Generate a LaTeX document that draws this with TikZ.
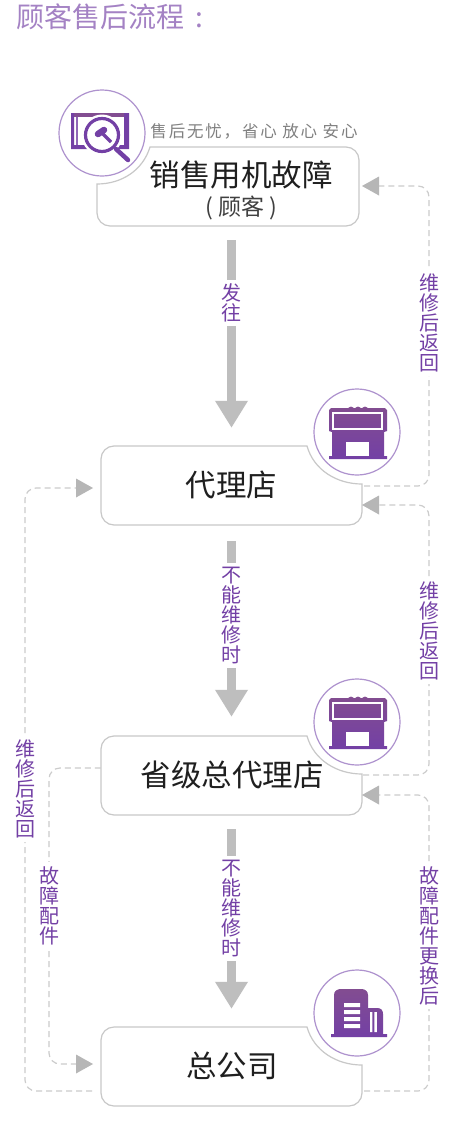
\documentclass[tikz,border=0pt]{standalone}
\usepackage{fontspec}
\setmainfont{Noto Sans CJK SC}
\usetikzlibrary{arrows.meta}
\definecolor{vio}{HTML}{7340A5}
\definecolor{violight}{HTML}{A482C4}
\definecolor{ring}{HTML}{AE92CE}
\definecolor{boxgray}{HTML}{C8C8C8}
\definecolor{dashgray}{HTML}{CCCCCC}
\definecolor{tipgray}{HTML}{B6B6B6}
\definecolor{bargray}{HTML}{BEBEBE}
\tikzset{
  x=1pt,y=-1pt,
  boxline/.style={draw=boxgray,line width=1.2pt,fill=white},
  ringnode/.style={circle,draw=ring,line width=1.2pt,minimum size=86pt,inner sep=0pt,fill=white},
  boxlabel/.style={inner sep=0pt,font=\fontsize{30.5}{34}\selectfont,text=black!88},
  flowbox/.style={inner sep=0pt,minimum width=261pt,minimum height=79pt},
  vlabel/.style={fill=white,inner xsep=2pt,inner ysep=4pt,align=center,text=vio,font=\fontsize{20}{20}\selectfont},
  bigarrow/.style={draw=bargray,line width=9.5pt,-{Triangle[length=27pt,width=31pt,color=bargray]}},
  backline/.style={draw=dashgray,line width=1.2pt,dash pattern=on 6pt off 4pt,rounded corners=11pt},
  iconshade/.style={top color=vio!80!brown,bottom color=vio,draw=none},
  notchbox/.pic={
    \draw[boxline] (5,52) -- (5,80) .. controls (5,87.2) and (-0.8,93) .. (-8,93) -- (-243,93)
      .. controls (-250.2,93) and (-256,87.2) .. (-256,80) -- (-256,27)
      .. controls (-256,19.8) and (-250.2,14) .. (-243,14) -- (-50,14)
      .. controls (-43.2,38.2) and (-20,52) .. (5,52) -- cycle;
  },
  shopicon/.pic={
    \fill[vio!80!brown] (-6,-22) circle (3.4) (1,-22) circle (3.4) (8,-22) circle (3.4);
    \shade[iconshade] (-26,-24) -- (28,-24) -- (30,-22) -- (30,-1) -- (27,0) -- (27,24) -- (30,24) -- (30,27)
      -- (-28,27) -- (-28,24) -- (-25,24) -- (-25,0) -- (-28,-1) -- (-28,-22) -- cycle;
    \draw[white,line width=1.2pt] (-24,-19) rectangle (25,-3);
    \fill[white] (-11,10) rectangle (12,24);
  },
}
\begin{document}
\begin{tikzpicture}
\useasboundingbox[fill=white] (0,0) rectangle (462,1146);
\node[anchor=west,inner sep=0pt,text=violight,font=\fontsize{28}{30}\selectfont] (title) at (16,17) {顾客售后流程\hspace{11pt}:};

% Boxes
\draw[boxline] (97,184) -- (97,213) .. controls (97,220.2) and (102.8,226) .. (110,226) -- (346,226)
  .. controls (353.2,226) and (359,220.2) .. (359,213) -- (359,160)
  .. controls (359,152.8) and (353.2,147) .. (346,147) -- (150,147)
  .. controls (143,170) and (122,184) .. (97,184) -- cycle;
\pic at (357,432) {notchbox};
\pic at (357,722) {notchbox};
\pic at (357,1013) {notchbox};

\node[flowbox] (b1) at (228,186.5) {};
\node[flowbox] (b2) at (231.5,485.5) {};
\node[flowbox] (b3) at (231.5,775.5) {};
\node[flowbox] (b4) at (231.5,1066.5) {};

\node[boxlabel] (t1) at (241,175) {销售用机故障};
\node[inner sep=0pt,text=black!75,font=\fontsize{23}{26}\selectfont] (t1b) at (241,208) {( 顾客 )};
\node[inner sep=0pt,text=black!50,font=\fontsize{16.5}{18}\selectfont\addfontfeature{LetterSpace=11}] (sub) at (254,131) {售后无忧，省心 放心 安心};
\node[boxlabel] (t2) at (231.5,485) {代理店};
\node[boxlabel] (t3) at (232,775) {省级总代理店};
\node[boxlabel] (t4) at (232,1066) {总公司};

% Circles and icons
\node[ringnode] (c1) at (102,133) {};
\node[ringnode] (c2) at (357,432) {};
\node[ringnode] (c3) at (357,722) {};
\node[ringnode] (c4) at (357,1013) {};

% icon 1: screen and magnifier
\fill[vio!80!brown] (71,113) rectangle (129,117);
\fill[vio] (71,113) rectangle (74,149) (71,145) rectangle (129,149) (124,113) rectangle (129,149);
\fill[vio!80] (76,117) rectangle (77.5,145);
\fill[white] (102,135) circle (20.5);
\draw[vio,line width=3.2pt] (102,135) circle (16.5);
\draw[vio,line width=4.5pt,line cap=round] (116,149) -- (128,160);
\draw[vio,line width=3.5pt] (101,132) -- (111,142);
\draw[vio,line width=6.5pt,line cap=round] (98,134) -- (104,130);

\pic at (357,432) {shopicon};
\pic at (357,722) {shopicon};

% building
\shade[iconshade] (334,1037) -- (334,995) .. controls (334,991) and (337,989) .. (341,989) -- (361,989)
  .. controls (365,989) and (368,991) .. (368,995) -- (368,1008) -- (377,1008)
  .. controls (381,1008) and (383,1010) .. (383,1014) -- (383,1034) -- (387,1034) -- (387,1037) -- (331,1037) -- (331,1034) -- (334,1034) -- cycle;
\fill[white] (344,1003) rectangle (360,1007) (344,1010) rectangle (360,1014)
  (344,1017) rectangle (360,1021) (344,1024) rectangle (360,1028)
  (370,1012) rectangle (372.4,1032) (374.4,1012) rectangle (376.8,1032);

% Big arrows
\draw[bigarrow,shorten <=14pt,shorten >=18pt] (b2.north |- b1.south) -- (b2.north);
\draw[bigarrow,shorten <=16pt,shorten >=19pt] (b2.south) -- (b3.north);
\draw[bigarrow,shorten <=14pt,shorten >=18pt] (b3.south) -- (b4.north);

% Return connectors
\coordinate (r1s) at (364,486);
\coordinate (r1c) at (429,486);
\coordinate (r1d) at (429,186);
\coordinate (r1e) at (379,186);
\draw[backline] (r1s) -- (r1c) -- (r1d) -- (r1e);
\fill[tipgray] (362,186) -- (379,176.5) -- (379,195.5) -- cycle;

\coordinate (r2s) at (363,775);
\coordinate (r2c) at (429,775);
\coordinate (r2d) at (429,505);
\coordinate (r2e) at (379,505);
\draw[backline] (r2s) -- (r2c) -- (r2d) -- (r2e);
\fill[tipgray] (362,505) -- (379,495.5) -- (379,514.5) -- cycle;

\coordinate (r3s) at (364,1091);
\coordinate (r3c) at (429,1091);
\coordinate (r3d) at (429,795);
\coordinate (r3e) at (379,795);
\draw[backline] (r3s) -- (r3c) -- (r3d) -- (r3e);
\fill[tipgray] (362,795) -- (379,785.5) -- (379,804.5) -- cycle;

\coordinate (l1s) at (92,1091);
\coordinate (l1c) at (25,1091);
\coordinate (l1d) at (25,488);
\coordinate (l1e) at (76,488);
\draw[backline] (l1s) -- (l1c) -- (l1d) -- (l1e);
\fill[tipgray] (93,488) -- (76,478.5) -- (76,497.5) -- cycle;

\coordinate (l2s) at (b3.west |- 0,768);
\coordinate (l2c) at (49,768);
\coordinate (l2d) at (49,1064);
\coordinate (l2e) at (76,1064);
\draw[backline] (l2s) -- (l2c) -- (l2d) -- (l2e);
\fill[tipgray] (93,1064) -- (76,1054.5) -- (76,1073.5) -- cycle;

% Labels
\node[vlabel] (la) at (231.5,303) {发\\往};
\node[vlabel] (lb) at (231.5,615.5) {不\\能\\维\\修\\时};
\node[vlabel] (lc) at (231.5,908.5) {不\\能\\维\\修\\时};
\node[vlabel] (ld) at (429,322.5) {维\\修\\后\\返\\回};
\node[vlabel] (le) at (429,630.5) {维\\修\\后\\返\\回};
\node[vlabel] (lf) at (429,935.5) {故\\障\\配\\件\\更\\换\\后};
\node[vlabel] (lg) at (25,788.5) {维\\修\\后\\返\\回};
\node[vlabel] (lh) at (49,905.5) {故\\障\\配\\件};
\end{tikzpicture}
\end{document}
